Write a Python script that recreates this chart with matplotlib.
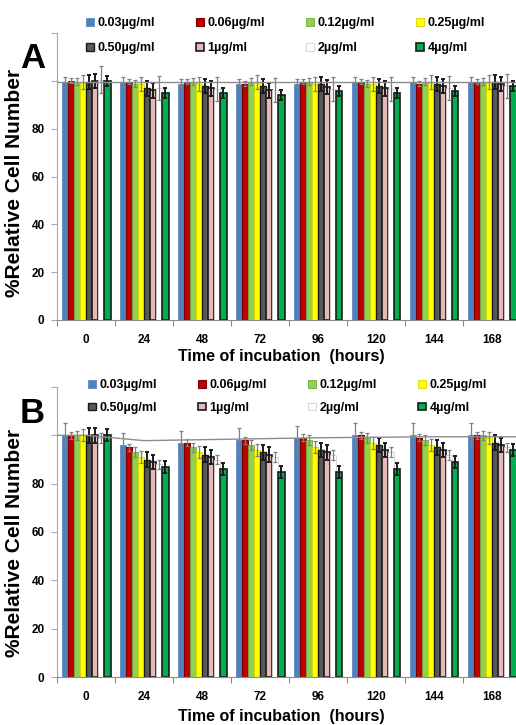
import numpy as np
import matplotlib
matplotlib.use("Agg")
import matplotlib.pyplot as plt

plt.rcParams['font.family'] = ['Liberation Sans', 'DejaVu Sans']

######################################################
hours  = ['0', '24', '48', '72', '96', '120', '144', '168']
doses  = ['0.03\u00b5g/ml', '0.06\u00b5g/ml', '0.12\u00b5g/ml', '0.25\u00b5g/ml',
          '0.50\u00b5g/ml', '1\u00b5g/ml', '2\u00b5g/ml', '4\u00b5g/ml']
ytick_vals   = [0, 20, 40, 60, 80, 100, 120]
ytick_labels = ['0', '20', '40', '60', '80', '', '']

# panel A  (one list per concentration, one value per time point)
a_003 = [99.6, 99.6, 98.8, 98.8, 98.6, 99.6, 99.6, 99.6]
a_006 = [100.0, 99.6, 99.6, 98.8, 99.6, 99.6, 98.8, 99.6]
a_012 = [99.6, 98.8, 99.6, 99.6, 99.6, 98.8, 99.6, 99.6]
a_025 = [99.6, 98.8, 98.8, 99.6, 98.8, 98.8, 99.6, 99.6]
a_050 = [99.6, 96.8, 97.8, 97.8, 98.8, 97.8, 98.8, 99.6]
a_1   = [100.0, 96.0, 96.8, 96.0, 97.5, 96.8, 97.8, 98.8]
a_2   = [100.5, 97.0, 96.5, 96.0, 96.5, 96.5, 97.0, 98.0]
a_4   = [100.0, 95.0, 95.0, 94.0, 95.7, 95.0, 95.7, 97.8]
a_err = [[2.0, 2.0, 2.0, 2.0, 2.0, 2.0, 2.0, 2.0],
         [1.0, 1.0, 1.0, 1.0, 1.0, 1.0, 1.0, 1.0],
         [1.5, 1.5, 1.5, 1.5, 1.5, 1.5, 1.5, 1.5],
         [3.0, 3.0, 3.0, 3.0, 3.0, 3.0, 3.0, 3.0],
         [3.0, 3.0, 3.0, 3.0, 3.0, 3.0, 3.0, 3.0],
         [3.0, 3.0, 3.0, 3.0, 3.0, 3.0, 3.0, 3.0],
         [5.5, 5.0, 5.0, 5.0, 5.0, 5.0, 5.0, 5.0],
         [2.0, 2.0, 2.0, 2.0, 2.0, 2.0, 2.0, 2.0]]
a_ctrl = [99.6, 99.6, 99.6, 99.6, 99.6, 99.6, 99.6, 99.6]

# panel B
b_003 = [100, 96, 97, 98, 99, 100, 100, 100]
b_006 = [100, 95, 97, 98, 99, 100, 99, 100]
b_012 = [100, 93, 95, 96, 98, 99, 98, 100]
b_025 = [100, 91, 93, 94, 95, 97, 96, 99]
b_050 = [100, 90, 92, 93, 94, 96, 95, 97]
b_1   = [100, 89, 91, 92, 93, 94, 94, 96]
b_2   = [99, 88, 90, 91, 92, 93, 92, 95]
b_4   = [100, 87, 86, 85, 85, 86, 89, 94]
b_err = [[5.0, 4.8, 4.8, 5.0, 5.0, 5.0, 5.0, 5.0],
         [1.5, 1.5, 1.5, 1.5, 1.5, 1.5, 1.5, 1.5],
         [2.0, 2.0, 2.0, 2.0, 2.0, 2.0, 2.0, 2.0],
         [2.5, 2.5, 2.5, 2.5, 2.5, 2.5, 2.5, 2.5],
         [3.0, 3.0, 3.0, 3.0, 3.0, 3.0, 3.0, 3.0],
         [3.0, 3.0, 3.0, 3.0, 3.0, 3.0, 3.0, 3.0],
         [2.0, 2.0, 2.0, 2.0, 2.0, 2.0, 2.0, 2.0],
         [2.5, 2.5, 2.5, 2.5, 2.5, 2.5, 2.5, 2.5]]
b_ctrl = [100.0, 97.8, 98.2, 98.6, 99.0, 99.2, 99.4, 99.4]

######################################################
facecols = ['#4F81BD', '#C00000', '#92D050', '#FFFF00', '#595959', '#E6B9B8', '#FFFFFF', '#00B050']
edgecols = ['#4F81BD', '#7F0000', '#77A83E', '#D8D800', '#1A1A1A', '#1A1A1A', '#D0D0D0', '#1A1A1A']
errcols  = ['#7F7F7F', '#7F7F7F', '#7F7F7F', '#7F7F7F', '#1A1A1A', '#1A1A1A', '#7F7F7F', '#1A1A1A']
errlw    = [0.9, 0.9, 0.9, 0.9, 1.4, 1.4, 0.9, 1.4]
edgelw   = [0.5, 0.8, 0.6, 0.6, 1.0, 1.2, 0.6, 1.2]


def panel(fig, rect, series, errs, ctrl, letter, leg_xy, leg_sp, xlab_y, ylab_y, letter_xy):
    ax = fig.add_axes(rect)
    ng = len(hours)
    ns = len(series)
    x = np.arange(ng)
    bw = 49.0 / 58.0 / ns
    off0 = -0.5 + (1.0 - bw * ns) / 2.0
    handles = []
    for i in range(ns):
        xs = x + off0 + bw * i + bw / 2.0
        b = ax.bar(xs, series[i], bw, color=facecols[i], edgecolor=edgecols[i],
                   linewidth=edgelw[i], label=doses[i], zorder=2)
        ax.errorbar(xs, series[i], yerr=errs[i], fmt='none', ecolor=errcols[i],
                    elinewidth=errlw[i], capsize=1.5, capthick=errlw[i], zorder=3)
        handles.append(b)
    # control line across the plot
    cx = [-0.5] + list(x) + [ng - 0.5]
    cy = [ctrl[0]] + list(ctrl) + [ctrl[-1]]
    ax.plot(cx, cy, color='#8C8C8C', lw=1.0, zorder=4)

    ax.set_xlim(-0.5, ng - 0.5)
    ax.set_ylim(0, 120)
    ax.set_yticks(ytick_vals)
    ax.set_yticklabels(ytick_labels, fontsize=8.5, weight='bold')
    ax.set_xticks(np.arange(ng + 1) - 0.5)
    ax.set_xticklabels([])
    ax.set_xticks(x, minor=True)
    ax.set_xticklabels(hours, minor=True, fontsize=8.5, weight='bold')
    ax.tick_params(axis='x', which='minor', length=0, pad=10)
    ax.tick_params(axis='x', which='major', length=4, color='#8C8C8C', direction='out')
    ax.tick_params(axis='y', length=4, color='#A6A6A6', direction='out', pad=5)
    for s in ['top', 'right']:
        ax.spines[s].set_visible(False)
    ax.spines['left'].set_color('#A6A6A6')
    ax.spines['bottom'].set_color('#8C8C8C')

    order = [0, 4, 1, 5, 2, 6, 3, 7]
    ax.legend([handles[k] for k in order], [doses[k] for k in order], ncol=4,
              loc='upper left', bbox_to_anchor=leg_xy, bbox_transform=fig.transFigure,
              frameon=False, borderpad=0, handlelength=0.6, handleheight=0.6,
              handletextpad=0.3, columnspacing=3.3, labelspacing=leg_sp,
              prop=dict(size=9, weight='bold'))

    fig.text(281 / 516.0, xlab_y, 'Time of incubation  (hours)', ha='center', va='center',
             fontsize=11.5, weight='bold')
    fig.text(15 / 516.0, ylab_y, '%Relative Cell Number', ha='center', va='center',
             rotation=90, fontsize=15, weight='bold')
    fig.text(letter_xy[0], letter_xy[1], letter, ha='center', va='center',
             fontsize=25, weight='bold')
    return ax


######################################################
W, H = 516.0, 725.0
fig = plt.figure(figsize=(5.16, 7.25), dpi=100, facecolor='w')

panel(fig, [57 / W, 1 - 320 / H, 464 / W, 287 / H],
      [a_003, a_006, a_012, a_025, a_050, a_1, a_2, a_4], a_err, a_ctrl, 'A',
      (80 / W, 1 - 11 / H), 1.05, 1 - 356 / H, 1 - 183 / H, (33 / W, 1 - 58 / H))
panel(fig, [57 / W, 1 - 677 / H, 464 / W, 290 / H],
      [b_003, b_006, b_012, b_025, b_050, b_1, b_2, b_4], b_err, b_ctrl, 'B',
      (82 / W, 1 - 373 / H), 0.85, 1 - 716 / H, 1 - 543 / H, (32 / W, 1 - 413 / H))

plt.savefig('out.png', dpi=100, facecolor='w')
plt.close(fig)
